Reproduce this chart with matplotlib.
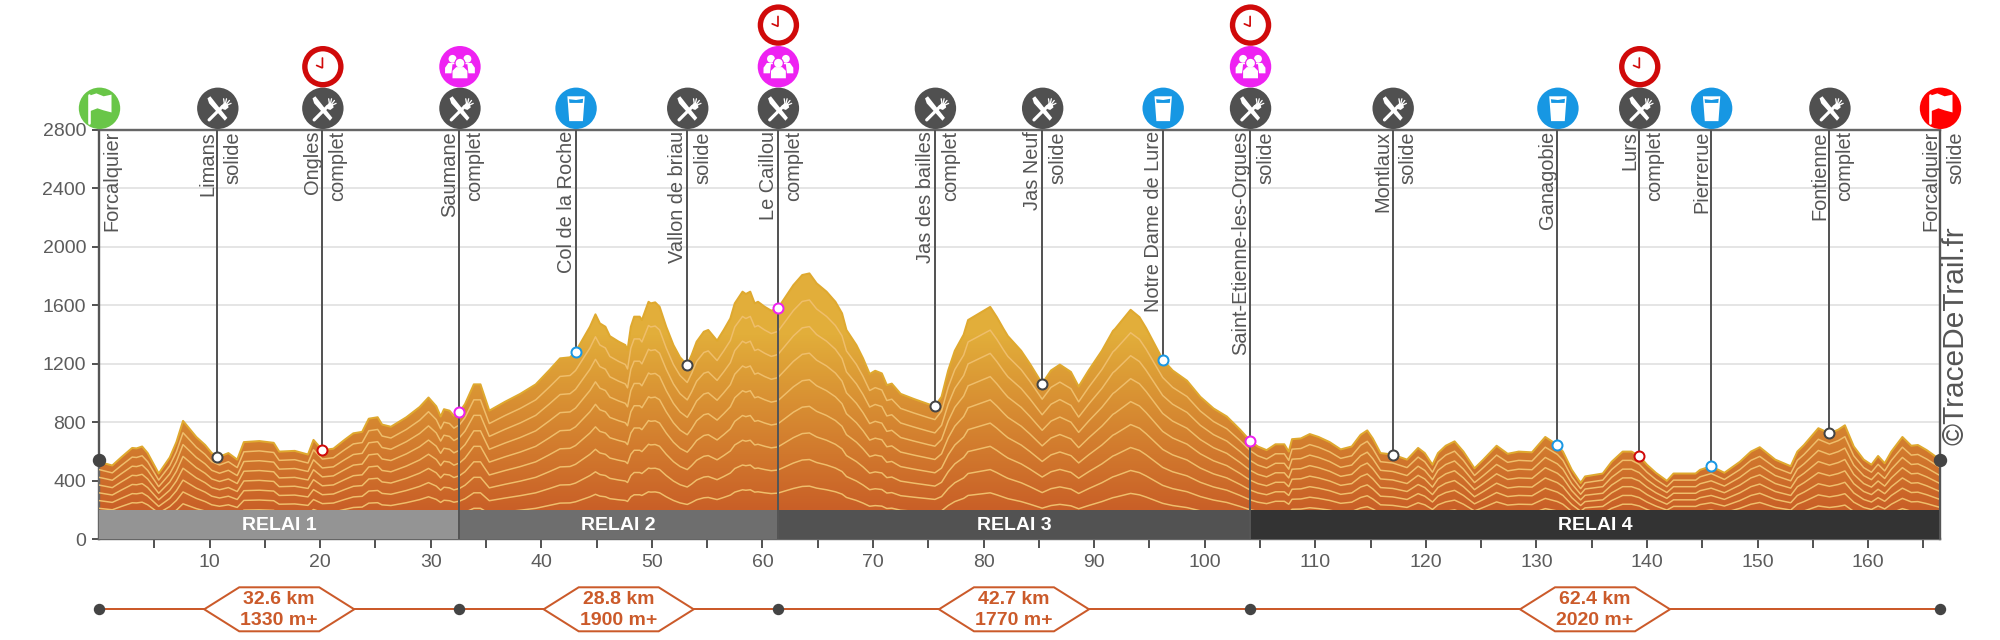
import numpy as np
import matplotlib
matplotlib.use("Agg")
import matplotlib.pyplot as plt
from matplotlib.colors import LinearSegmentedColormap
from matplotlib.patches import Circle, PathPatch, Polygon
from matplotlib.path import Path
from matplotlib.transforms import Affine2D

# elevation profile
km = [0, 1.2, 2, 3, 3.4, 3.9, 4.4, 5.4, 6.4, 7, 7.6, 8.2, 8.8, 9.6, 10.2, 10.9, 11.7, 12.5, 13.1, 14.5,
      15.8, 16.3, 17.7, 18.9, 19.4, 19.8, 20.2, 21.2, 22.2, 23, 23.8, 24.4, 25.2, 25.6, 26.4, 27.8, 29, 29.8,
      30.5, 30.9, 31.2, 31.7, 32.1, 32.6, 33.1, 33.9, 34.5, 34.9, 35.3, 36.7, 38.1, 39.5, 40.7,
      41.7, 42.6, 43.1, 43.8, 44.4, 44.9, 45.3, 45.8, 46.2, 47, 47.6, 47.8, 48.1, 48.4, 48.9, 49.1, 49.7, 49.9,
      50.3, 50.7, 51.3, 51.95, 52.55, 53.2, 53.6, 54.05, 54.7, 55.1, 55.9, 56.5, 57.1, 57.5, 58.2, 58.5, 58.9,
      59.3, 59.6, 60.2, 60.8, 61.4, 62.2, 62.8, 63.6, 64.25, 64.9, 65.8, 66.6, 67.2, 67.6, 68.5, 69.1, 69.7,
      70.2, 70.8, 71.25,
      71.7, 72.5, 73.7, 75, 75.6, 76.2, 76.8, 77.4, 78.2, 78.6, 79.6, 80.6, 81.2, 81.8, 82.2,
      83.4, 84.2, 85.3, 86.1, 86.9, 87.9, 88.6, 89.5, 90.7, 91.7, 91.9, 93.3, 94.1, 94.7, 96.2, 97.1, 98.4,
      99.6, 100.8, 102, 103.2, 104.1, 104.8, 105.6, 106.4, 107.2, 107.6, 107.9, 108.7, 109.5, 110.3, 111.3,
      112.3, 113.3, 114.1, 114.7, 115.2, 115.9, 117, 118.3, 119.3, 119.9, 120.6, 121.1, 121.8, 122.6, 123.4,
      124.4, 125.2, 126.4, 127.4, 128.4, 129.6, 130.8, 131.9, 132.4, 133.2, 134, 134.4, 136, 136.8, 137.8,
      138.6, 139.3, 140, 140.8, 141.8, 142.4, 144.4, 144.8, 145.8, 147, 148.4, 149.4, 150.2, 151.6, 153,
      153.6, 154.2, 155.5, 156.5, 157.3, 157.9, 158.7, 159.6, 160.3, 160.9, 161.5, 162.1, 163.1, 163.9,
      164.5, 165.3, 166.5]
elevation = [530, 505, 560, 625, 622, 635, 590, 450, 560, 665, 810, 755, 700, 645, 590, 565, 590, 545, 665, 672,
             660, 600, 605, 580, 680, 645, 610, 620, 680, 725, 735, 825, 835, 785, 770, 835, 905, 970,
             910, 840, 890, 880, 845, 870, 925, 1060, 1060, 970, 880, 940, 995, 1060, 1155,
             1238, 1245, 1283, 1375, 1454, 1539, 1477, 1454, 1390, 1352, 1329, 1295, 1454, 1523, 1523, 1500, 1625, 1614,
             1621, 1591, 1454, 1329, 1245, 1192, 1261, 1352, 1420, 1432, 1359, 1432, 1511, 1614, 1694, 1678, 1694,
             1614, 1625, 1591, 1564, 1580, 1671, 1739, 1808, 1819, 1751, 1694, 1625, 1546, 1432, 1329, 1238, 1131,
             1153, 1135, 1055,
             1065, 995, 960, 925, 910, 975, 1155, 1290, 1400, 1500, 1545, 1590, 1520, 1440, 1390,
             1290, 1200, 1065, 1155, 1195, 1145, 1045, 1155, 1290, 1425, 1440, 1570, 1520, 1445, 1230, 1155, 1085,
             975, 895, 840, 750, 675, 635, 610, 650, 650, 600, 685, 690, 720, 700, 665,
             615, 635, 715, 745, 690, 590, 580, 545, 625, 590, 510, 590, 640, 670, 600,
             485, 545, 640, 585, 600, 595, 700, 645, 600, 475, 385, 430, 450, 530, 600,
             600, 570, 510, 455, 400, 450, 450, 475, 500, 455, 530, 600, 630, 545, 500,
             600, 645, 760, 725, 750, 780, 635, 545, 510, 570, 520, 600, 700, 640,
             645, 610, 545]

# stations along the course
station_names = ["Forcalquier", "Limans", "Ongles", "Saumane", "Col de la Roche", "Vallon de briau", "Le Caillou",
                 "Jas des bailles", "Jas Neuf", "Notre Dame de Lure", "Saint-Etienne-les-Orgues", "Montlaux",
                 "Ganagobie", "Lurs", "Pierrerue", "Fontienne", "Forcalquier"]
station_notes = ["", "solide", "complet", "complet", "", "solide", "complet", "complet", "solide", "", "solide",
                 "solide", "", "complet", "", "complet", "solide"]
station_km = [0, 10.7, 20.2, 32.6, 43.1, 53.2, 61.4, 75.6, 85.3, 96.2, 104.1, 117, 131.9, 139.3, 145.8, 156.5, 166.5]
station_ele = [545, 560, 610, 870, 1283, 1192, 1585, 910, 1065, 1230, 675, 580, 645, 570, 500, 725, 545]
station_icons = [["start"], ["food"], ["food", "clock"], ["food", "people"], ["water"], ["food"],
                 ["food", "people", "clock"], ["food"], ["food"], ["water"], ["food", "people", "clock"], ["food"],
                 ["water"], ["food", "clock"], ["water"], ["food"], ["finish"]]

# relays
relay_names = ["RELAI 1", "RELAI 2", "RELAI 3", "RELAI 4"]
relay_ends = [32.6, 61.4, 104.1, 166.5]
relay_colors = ["#949494", "#6e6e6e", "#525252", "#333333"]
relay_dist = ["32.6 km", "28.8 km", "42.7 km", "62.4 km"]
relay_gain = ["1330 m+", "1900 m+", "1770 m+", "2020 m+"]

DARK = "#555555"
ORANGE = "#cb5a2a"
RING = {"food": "#444444", "water": "#1a98e4", "people": "#ee22ee", "clock": "#d00a0a"}
ICON_R = 20.7


def px(n):
    # pixels to points, figure is at 100 dpi
    return n * 72 / 100


def stroke(fig, place, verts, width, color="white"):
    fig.add_artist(PathPatch(Path(verts), fc="none", ec=color, lw=px(width), transform=place, capstyle="round"))


def fill(fig, place, verts, color="white"):
    fig.add_artist(Polygon(verts, closed=True, fc=color, ec="none", transform=place))


def dot(fig, place, x, y, r, color="white"):
    fig.add_artist(Circle((x, y), r, fc=color, ec="none", transform=place))


def draw_icon(fig, cx, cy, kind):
    place = Affine2D().scale(ICON_R).translate(cx, cy)
    colors = {"start": "#69c648", "finish": "#ff0000", "food": "#505050", "water": "#1797e3",
              "people": "#ee22f2", "clock": "#d00a0a"}
    dot(fig, place, 0, 0, 1, colors[kind])
    if kind == "food":
        knife = [(-0.50, 0.48), (-0.36, 0.58), (0.46, -0.46), (0.34, -0.60), (-0.02, -0.20), (-0.42, 0.24)]
        fill(fig, place, knife)
        stroke(fig, place, [(-0.42, -0.56), (0.22, 0.08)], 3.2)
        fill(fig, place, [(0.14, 0.10), (0.30, 0.26), (0.48, 0.20), (0.52, 0.04), (0.36, -0.08), (0.24, -0.04)])
        for tx, ty in [(0.28, 0.46), (0.42, 0.46), (0.56, 0.38), (0.64, 0.24)]:
            stroke(fig, place, [(0.34, 0.10), (tx, ty)], 1.3)
    elif kind == "water":
        fill(fig, place, [(-0.42, 0.58), (0.42, 0.58), (0.33, -0.62), (-0.33, -0.62)])
        fill(fig, place, [(-0.34, 0.44), (0.0, 0.40), (0.34, 0.46), (0.32, 0.26), (-0.32, 0.26)], colors[kind])
    elif kind == "people":
        for sx in (-0.36, 0.36):
            dot(fig, place, sx, 0.38, 0.19)
            fill(fig, place, [(sx - 0.2, 0.18), (sx + 0.2, 0.18), (sx + 0.36, -0.05), (sx + 0.36, -0.32),
                              (sx - 0.36, -0.32), (sx - 0.36, -0.05)])
        fill(fig, place, [(-0.36, 0.12), (0.36, 0.12), (0.44, -0.58), (-0.44, -0.58)], colors[kind])
        dot(fig, place, 0, 0.17, 0.27, colors[kind])
        dot(fig, place, 0, 0.17, 0.21)
        fill(fig, place, [(-0.18, -0.02), (0.18, -0.02), (0.36, -0.2), (0.36, -0.56), (-0.36, -0.56), (-0.36, -0.2)])
    elif kind == "clock":
        dot(fig, place, 0, 0, 0.74)
        stroke(fig, place, [(-0.02, 0.42), (-0.02, -0.06), (-0.30, 0.06)], 1.7, colors[kind])
    else:
        fill(fig, place, [(-0.46, 0.62), (-0.15, 0.72), (0.2, 0.58), (0.58, 0.66), (0.58, -0.2), (0.2, -0.1),
                          (-0.1, 0.0), (-0.46, -0.14)])
        stroke(fig, place, [(-0.5, 0.62), (-0.5, -0.72)], 2.6)


def main():
    plt.rcParams["font.family"] = ["Liberation Sans", "DejaVu Sans"]
    fig = plt.figure(figsize=(20, 6.4), dpi=100)
    ax = fig.add_axes([99 / 2000, (640 - 539.3) / 640, 1841 / 2000, 409.3 / 640])
    ax.set_xlim(0, 166.5)
    ax.set_ylim(0, 2800)

    ax.set_yticks(np.arange(0, 2801, 400))
    ax.set_xticks(np.arange(10, 161, 10))
    ax.set_xticks(np.arange(5, 166, 10), minor=True)
    ax.tick_params(axis="y", length=px(7), width=px(2), color=DARK, labelcolor="#5c5c5c", labelsize=14, pad=px(6))
    ax.tick_params(axis="x", which="both", length=px(9), width=px(2), color=DARK, labelcolor="#5c5c5c", labelsize=14,
                   pad=px(6))
    ax.grid(True, axis="y", color="#e5e5e5", lw=px(2))
    ax.set_axisbelow(True)
    for side in ax.spines:
        ax.spines[side].set_color("#666666")
        ax.spines[side].set_linewidth(px(2.4))

    # profile with vertical gradient
    outline = list(zip(km, elevation))
    area = Polygon([(km[0], 200)] + outline + [(km[-1], 200)], closed=True, fc="none", ec="none", transform=ax.transData)
    ax.add_patch(area)
    cmap = LinearSegmentedColormap.from_list("profile", ["#c95f27", "#e2ae3a"])
    img = ax.imshow(np.linspace(1, 0, 256).reshape(-1, 1), cmap=cmap, aspect="auto", extent=(0, 166.5, 200, 1400),
                    zorder=2)
    img.set_clip_path(area)
    top_band = ax.fill_between([0, 166.5], 1399, 1830, color="#e2ae3a", lw=0, zorder=2)
    top_band.set_clip_path(area)
    ax.set_xlim(0, 166.5)
    ax.set_ylim(0, 2800)

    # the light lines are fractions of the elevation
    elev = np.array(elevation)
    for k in np.arange(0.2, 0.95, 0.1):
        ax.plot(km, elev * k, color="#efbe6b", lw=px(1.5), zorder=3)
    ax.plot(km, elevation, color="#dfa92f", lw=px(2), zorder=3)

    # relay bars
    starts = [0] + relay_ends[:-1]
    for start, end, name, color in zip(starts, relay_ends, relay_names, relay_colors):
        ax.fill_between([start, end], 0, 200, color=color, lw=0, zorder=4)
        ax.text((start + end) / 2, 97, name, color="white", fontsize=14, fontweight="bold", ha="center", va="center",
                zorder=5)

    # stations
    for i, name in enumerate(station_names):
        x, y = station_km[i], station_ele[i]
        bottom = 0 if x in relay_ends else y
        ax.plot([x, x], [bottom, 2800], color=DARK, lw=px(2), zorder=6, clip_on=False, solid_capstyle="butt")
        edge = {"water": "#1a98e4", "people": "#ee22ee", "clock": "#d00a0a"}.get(station_icons[i][-1], "#444444")
        if "people" in station_icons[i]:
            edge = RING["people"]
        if i in (0, len(station_names) - 1):
            ax.plot(x, y, "o", ms=px(12), mfc="#444444", mec="#444444", zorder=7, clip_on=False)
        else:
            ax.plot(x, y, "o", ms=px(10), mfc="white", mec=edge, mew=px(2), zorder=7, clip_on=False)

        if i == 0:
            ax.annotate(name, (x, 2800), xytext=(3, -1), textcoords="offset pixels", rotation=90, ha="left", va="top",
                        fontsize=14.4, color=DARK, zorder=8)
        else:
            ax.annotate(name, (x, 2800), xytext=(0, -1), textcoords="offset pixels", rotation=90, ha="right", va="top",
                        fontsize=14.4, color=DARK, zorder=8)
        if station_notes[i]:
            ax.annotate(station_notes[i], (x, 2800), xytext=(6, -1), textcoords="offset pixels", rotation=90, ha="left",
                        va="top", fontsize=14.4, color=DARK, zorder=8)

    fig.canvas.draw()
    for x, icons in zip(station_km, station_icons):
        cx, top = ax.transData.transform((x, 2800))
        for row, kind in enumerate(icons):
            draw_icon(fig, cx + 0.5, top + 21.7 + row * 41.6, kind)

    # distance strip under the axis
    strip = ax.get_xaxis_transform()
    strip_y = -0.171
    ax.plot([0, 166.5], [strip_y, strip_y], color=ORANGE, lw=px(2), transform=strip, clip_on=False, zorder=1)
    for x in [0] + relay_ends:
        ax.plot(x, strip_y, "o", ms=px(10), color="#444444", transform=strip, clip_on=False, zorder=3)
    for start, end, dist, gain in zip(starts, relay_ends, relay_dist, relay_gain):
        mid = (start + end) / 2
        cx, cy = ax.transData.transform((mid, 0))
        cy = cy - 70
        hexa = [(-75, 0), (-40, 22), (40, 22), (75, 0), (40, -22), (-40, -22)]
        fig.add_artist(Polygon(hexa, closed=True, fc="white", ec=ORANGE, lw=px(2),
                               transform=Affine2D().translate(cx, cy), zorder=4))
        fig.text(cx / 2000, (cy + 10) / 640, dist, color=ORANGE, fontsize=14, fontweight="bold", ha="center",
                 va="center", zorder=5)
        fig.text(cx / 2000, (cy - 11) / 640, gain, color=ORANGE, fontsize=14, fontweight="bold", ha="center",
                 va="center", zorder=5)

    fig.text(1956 / 2000, (640 - 445) / 640, "©TraceDeTrail.fr", rotation=90, fontsize=21.5, color=DARK, ha="center",
             va="bottom")

    fig.savefig("out.png", dpi=100)


if __name__ == "__main__":
    main()
